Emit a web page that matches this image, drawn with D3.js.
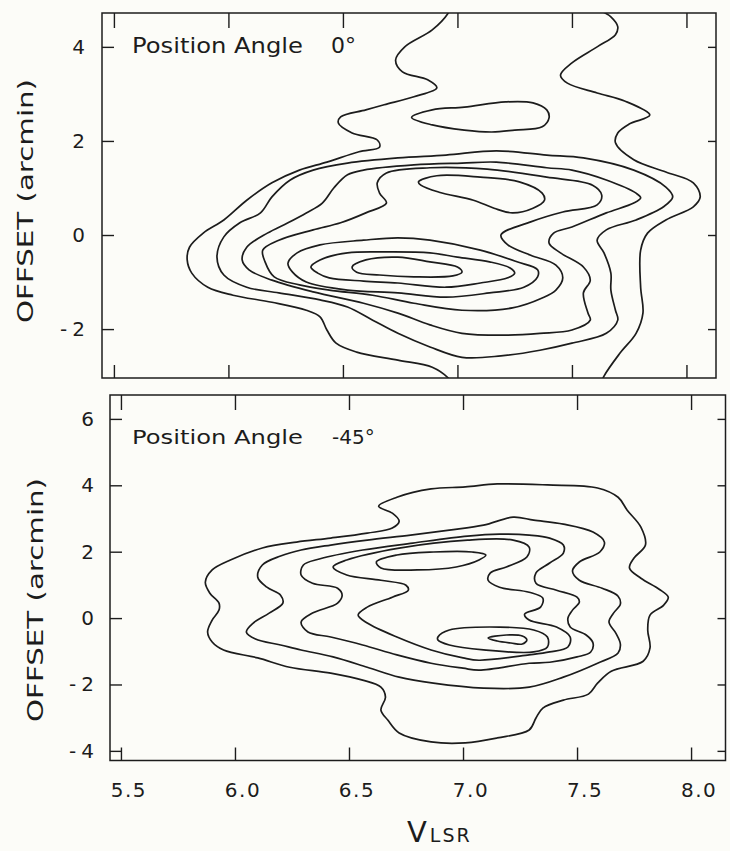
<!DOCTYPE html>
<html><head><meta charset="utf-8">
<script src="https://cdn.jsdelivr.net/npm/d3@7"></script>
<style>body{margin:0;background:#fcfcf8;} svg{display:block;}</style>
</head><body><svg id="c" width="730" height="851"></svg>
<script>
// ---------- DATA ----------
const xTicks = [5.5, 6.0, 6.5, 7.0, 7.5, 8.0];
const xTickLabels = ["5.5", "6.0", "6.5", "7.0", "7.5", "8.0"];
const topYTicks = [4, 2, 0, -2];
const topYTickLabels = ["4", "2", "0", "-2"];
const botYTicks = [6, 4, 2, 0, -2, -4];
const botYTickLabels = ["6", "4", "2", "0", "-2", "-4"];
const yTitle = "OFFSET (arcmin)";
const xTitleMain = "V";
const xTitleSub = "LSR";
const topLabel = ["Position Angle", "0°"];
const botLabel = ["Position Angle", "-45°"];

// Position angle 0° : contours as [V_LSR, offset] pairs
const topL1a = [[6.98,4.95],[6.96,4.72],[6.89,4.36],[6.77,4.00],[6.73,3.72],[6.76,3.47],[6.87,3.30],[6.91,3.13],[6.81,2.94],[6.68,2.77],[6.60,2.66],[6.49,2.51],[6.48,2.38],[6.54,2.17],[6.65,2.02],[6.66,1.87],[6.57,1.77],[6.43,1.55],[6.31,1.38],[6.19,1.11],[6.08,0.74],[5.98,0.32],[5.89,0.04],[5.83,-0.26],[5.82,-0.53],[5.84,-0.81],[5.91,-1.11],[6.02,-1.28],[6.19,-1.43],[6.34,-1.60],[6.40,-1.74],[6.43,-2.02],[6.47,-2.30],[6.56,-2.49],[6.74,-2.66],[6.89,-2.81],[6.96,-3.04],[6.99,-3.25]];
const topL1b = [[7.58,4.95],[7.62,4.79],[7.67,4.64],[7.70,4.43],[7.69,4.26],[7.61,4.00],[7.50,3.66],[7.45,3.40],[7.48,3.23],[7.61,3.02],[7.73,2.85],[7.84,2.55],[7.75,2.36],[7.70,2.17],[7.69,1.96],[7.77,1.60],[7.91,1.34],[8.03,1.11],[8.06,0.81],[8.03,0.60],[7.91,0.32],[7.83,0.04],[7.80,-0.32],[7.80,-1.11],[7.81,-1.66],[7.78,-2.09],[7.71,-2.51],[7.64,-3.00],[7.62,-3.25]];
const topL2island = [[6.80,2.50],[6.89,2.66],[7.03,2.72],[7.21,2.83],[7.33,2.81],[7.39,2.66],[7.40,2.49],[7.37,2.30],[7.25,2.23],[7.15,2.19],[7.03,2.23],[6.89,2.34]];
const topL2 = [[5.95,-0.47],[5.98,-0.04],[6.05,0.26],[6.14,0.47],[6.19,0.81],[6.27,1.17],[6.37,1.38],[6.52,1.53],[6.74,1.64],[6.95,1.70],[7.17,1.79],[7.39,1.70],[7.55,1.64],[7.77,1.38],[7.91,1.02],[7.94,0.81],[7.90,0.60],[7.78,0.32],[7.65,0.11],[7.61,-0.11],[7.64,-0.38],[7.67,-0.81],[7.67,-1.17],[7.69,-1.60],[7.70,-1.81],[7.65,-2.09],[7.50,-2.30],[7.36,-2.45],[7.19,-2.57],[7.02,-2.60],[6.88,-2.38],[6.74,-2.09],[6.63,-1.81],[6.52,-1.53],[6.40,-1.38],[6.22,-1.23],[6.08,-1.11],[5.98,-0.85]];
const topL3 = [[6.06,-0.53],[6.08,-0.26],[6.17,0.04],[6.26,0.26],[6.34,0.47],[6.41,0.68],[6.46,1.00],[6.52,1.28],[6.59,1.38],[6.81,1.49],[7.02,1.53],[7.17,1.55],[7.39,1.43],[7.50,1.38],[7.65,1.17],[7.78,0.89],[7.80,0.79],[7.77,0.68],[7.65,0.47],[7.50,0.17],[7.42,0.04],[7.40,-0.17],[7.45,-0.38],[7.55,-0.68],[7.58,-0.96],[7.55,-1.23],[7.57,-1.66],[7.58,-1.81],[7.50,-2.02],[7.36,-2.09],[7.19,-2.13],[7.02,-2.09],[6.88,-1.91],[6.74,-1.66],[6.59,-1.45],[6.37,-1.21],[6.19,-0.96],[6.09,-0.74]];
const topL4 = [[6.16,-0.57],[6.15,-0.32],[6.22,-0.11],[6.37,0.11],[6.49,0.26],[6.60,0.47],[6.69,0.68],[6.66,0.89],[6.65,1.11],[6.69,1.32],[6.88,1.43],[7.13,1.40],[7.39,1.23],[7.59,1.06],[7.63,0.85],[7.61,0.64],[7.46,0.49],[7.32,0.28],[7.19,0.00],[7.22,-0.21],[7.32,-0.43],[7.43,-0.64],[7.46,-0.91],[7.43,-1.17],[7.37,-1.34],[7.24,-1.55],[7.02,-1.60],[6.81,-1.45],[6.63,-1.28],[6.44,-1.17],[6.31,-1.06],[6.20,-0.89]];
const topL5a = [[6.83,1.13],[6.91,1.26],[7.10,1.23],[7.27,1.13],[7.37,0.89],[7.38,0.74],[7.33,0.57],[7.24,0.47],[7.16,0.57],[7.07,0.74],[6.92,0.91],[6.84,1.06]];
const topL5b = [[6.26,-0.60],[6.30,-0.38],[6.40,-0.21],[6.59,-0.11],[6.74,-0.06],[6.88,-0.11],[7.10,-0.32],[7.26,-0.57],[7.35,-0.74],[7.35,-0.89],[7.29,-1.11],[7.14,-1.23],[6.95,-1.32],[6.74,-1.23],[6.52,-1.17],[6.34,-1.00],[6.28,-0.79]];
const topL6 = [[6.36,-0.68],[6.40,-0.53],[6.52,-0.38],[6.69,-0.36],[6.88,-0.38],[7.00,-0.47],[7.14,-0.57],[7.23,-0.70],[7.25,-0.81],[7.22,-0.91],[7.10,-1.02],[6.95,-1.11],[6.74,-1.02],[6.59,-0.98],[6.44,-0.91],[6.39,-0.81]];
const topL7 = [[6.54,-0.68],[6.60,-0.53],[6.74,-0.47],[6.88,-0.57],[7.00,-0.68],[7.02,-0.79],[6.98,-0.87],[6.81,-0.89],[6.66,-0.85],[6.56,-0.79]];

// Position angle -45°
const botL1 = [[6.63,3.37],[6.71,3.64],[6.86,3.89],[7.01,3.95],[7.15,4.04],[7.37,4.01],[7.59,3.92],[7.68,3.64],[7.72,3.25],[7.78,2.74],[7.80,2.20],[7.75,1.81],[7.73,1.51],[7.78,1.20],[7.86,0.87],[7.90,0.63],[7.88,0.39],[7.82,0.09],[7.81,-0.36],[7.82,-0.90],[7.79,-1.30],[7.65,-1.60],[7.59,-1.96],[7.55,-2.29],[7.44,-2.47],[7.35,-2.71],[7.32,-3.01],[7.29,-3.37],[7.15,-3.61],[7.01,-3.76],[6.86,-3.73],[6.72,-3.46],[6.67,-3.07],[6.64,-2.77],[6.66,-2.38],[6.64,-2.08],[6.56,-1.87],[6.42,-1.66],[6.24,-1.48],[6.10,-1.20],[5.95,-0.96],[5.90,-0.72],[5.88,-0.42],[5.90,-0.06],[5.93,0.24],[5.93,0.45],[5.89,0.75],[5.87,1.08],[5.90,1.45],[5.98,1.75],[6.12,2.11],[6.27,2.29],[6.42,2.41],[6.58,2.56],[6.69,2.71],[6.72,2.92],[6.69,3.16]];
const botL2 = [[6.10,1.23],[6.12,1.60],[6.20,1.87],[6.29,2.05],[6.42,2.20],[6.58,2.35],[6.77,2.50],[6.94,2.65],[7.09,2.80],[7.22,3.04],[7.31,2.95],[7.44,2.83],[7.57,2.59],[7.62,2.29],[7.60,1.99],[7.51,1.69],[7.48,1.42],[7.51,1.14],[7.61,0.90],[7.68,0.66],[7.69,0.42],[7.66,0.15],[7.64,-0.12],[7.67,-0.45],[7.69,-0.78],[7.68,-1.05],[7.59,-1.36],[7.44,-1.78],[7.29,-2.08],[7.09,-2.11],[6.87,-1.96],[6.72,-1.78],[6.58,-1.48],[6.43,-1.17],[6.29,-0.96],[6.20,-0.81],[6.09,-0.63],[6.05,-0.42],[6.08,-0.15],[6.15,0.15],[6.21,0.45],[6.20,0.69],[6.14,0.93]];
const botL3 = [[6.29,1.30],[6.30,1.60],[6.37,1.78],[6.56,2.05],[6.78,2.26],[7.02,2.47],[7.16,2.53],[7.29,2.50],[7.38,2.41],[7.44,2.20],[7.44,1.96],[7.38,1.66],[7.32,1.36],[7.32,1.05],[7.41,0.84],[7.50,0.63],[7.51,0.48],[7.48,0.24],[7.46,0.00],[7.47,-0.27],[7.54,-0.51],[7.57,-0.75],[7.56,-1.02],[7.50,-1.17],[7.38,-1.33],[7.29,-1.36],[7.07,-1.57],[7.00,-1.51],[6.86,-1.36],[6.71,-1.11],[6.56,-0.81],[6.42,-0.57],[6.32,-0.42],[6.29,-0.12],[6.34,0.15],[6.45,0.45],[6.47,0.69],[6.45,0.90],[6.34,1.05]];
const botL4 = [[6.43,1.54],[6.49,1.75],[6.72,2.11],[7.02,2.35],[7.22,2.35],[7.29,2.14],[7.28,1.84],[7.19,1.54],[7.12,1.36],[7.11,1.14],[7.16,0.93],[7.29,0.78],[7.35,0.60],[7.34,0.33],[7.27,0.12],[7.29,-0.06],[7.41,-0.27],[7.47,-0.57],[7.46,-0.87],[7.38,-1.02],[7.29,-1.11],[7.07,-1.27],[7.00,-1.20],[6.86,-0.96],[6.71,-0.57],[6.58,-0.15],[6.54,0.09],[6.58,0.33],[6.69,0.63],[6.76,0.84],[6.75,0.99],[6.64,1.14],[6.49,1.30]];
const botL5a = [[6.62,1.69],[6.71,1.90],[6.87,1.99],[7.04,1.99],[7.10,1.90],[7.07,1.75],[6.97,1.54],[6.80,1.45],[6.64,1.51]];
const botL5b = [[6.89,-0.57],[6.94,-0.36],[7.16,-0.27],[7.31,-0.36],[7.37,-0.57],[7.37,-0.87],[7.31,-1.02],[7.09,-0.96],[6.94,-0.81],[6.89,-0.66]];
const botL6 = [[7.11,-0.60],[7.19,-0.51],[7.26,-0.54],[7.28,-0.66],[7.26,-0.78],[7.21,-0.75],[7.15,-0.69]];

// ---------- LAYOUT ----------
const ink = "#1c1c1c";
const svg = d3.select("#c");
svg.append("rect").attr("width", 730).attr("height", 851).attr("fill", "#fcfcf8");

const panels = [
  { xr: [102, 716], yr: [13, 378], xd: [5.448, 8.129], yd: [4.72, -3.04],
    yt: topYTicks, ytl: topYTickLabels, labX: 85, titleY: 201, titleX: 33,
    closed: [topL2island, topL2, topL3, topL4, topL5a, topL5b, topL6, topL7],
    open: [topL1a, topL1b], label: topLabel, labelY: 53, labelSize: 22, degX: 331 },
  { xr: [110, 725.5], yr: [395, 760.5], xd: [5.452, 8.151], yd: [6.72, -4.29],
    yt: botYTicks, ytl: botYTickLabels, labX: 94, titleY: 600, titleX: 43,
    closed: [botL1, botL2, botL3, botL4, botL5a, botL5b, botL6],
    open: [], label: botLabel, labelY: 444, labelSize: 20, degX: 332 }
];

const font = "'DejaVu Sans', 'Liberation Sans', sans-serif";

panels.forEach((p, i) => {
  const x = d3.scaleLinear().domain(p.xd).range(p.xr);
  const y = d3.scaleLinear().domain(p.yd).range(p.yr);
  const g = svg.append("g");
  g.append("clipPath").attr("id", "clip" + i)
    .append("rect").attr("x", p.xr[0]).attr("y", p.yr[0])
    .attr("width", p.xr[1] - p.xr[0]).attr("height", p.yr[1] - p.yr[0]);

  const closedLine = d3.line().x(d => x(d[0])).y(d => y(d[1])).curve(d3.curveCatmullRomClosed.alpha(0.5));
  const openLine = d3.line().x(d => x(d[0])).y(d => y(d[1])).curve(d3.curveCatmullRom.alpha(0.5));
  const cg = g.append("g").attr("clip-path", `url(#clip${i})`)
    .attr("fill", "none").attr("stroke", ink).attr("stroke-width", 1.7).attr("stroke-linejoin", "round");
  cg.selectAll("path.c").data(p.closed).join("path").attr("class", "c").attr("d", closedLine);
  cg.selectAll("path.o").data(p.open).join("path").attr("class", "o").attr("d", openLine);

  // frame
  g.append("rect").attr("x", p.xr[0]).attr("y", p.yr[0])
    .attr("width", p.xr[1] - p.xr[0]).attr("height", p.yr[1] - p.yr[0])
    .attr("fill", "none").attr("stroke", ink).attr("stroke-width", 1.5);

  // inward ticks via axes
  const axB = d3.axisTop(x).tickValues(xTicks).tickSize(13).tickFormat("");
  const axT = d3.axisBottom(x).tickValues(xTicks).tickSize(15).tickFormat("");
  const axL = d3.axisRight(y).tickValues(p.yt).tickSize(12).tickFormat("");
  const axR = d3.axisLeft(y).tickValues(p.yt).tickSize(8).tickFormat("");
  [[axB, `translate(0,${p.yr[1]})`], [axT, `translate(0,${p.yr[0]})`],
   [axL, `translate(${p.xr[0]},0)`], [axR, `translate(${p.xr[1]},0)`]].forEach(([ax, tr]) => {
    const a = g.append("g").attr("transform", tr).call(ax);
    a.select(".domain").remove();
    a.selectAll("line").attr("stroke", ink).attr("stroke-width", 1.4);
  });

  // y tick labels
  g.selectAll("text.yl").data(p.yt).join("text").attr("class", "yl")
    .attr("x", p.labX).attr("y", d => y(d) + 7)
    .attr("text-anchor", "end").attr("font-family", font).attr("font-size", 20)
    .attr("fill", ink)
    .each(function (d, k) {
      const s = p.ytl[k];
      const t = d3.select(this);
      if (s[0] === "-") {
        t.append("tspan").text("-");
        t.append("tspan").attr("dx", 5).text(s.slice(1));
      } else t.text(s);
    });

  // y title
  g.append("text").attr("transform", `translate(${p.titleX},${p.titleY}) rotate(-90)`)
    .attr("text-anchor", "middle").attr("font-family", font).attr("font-size", 22)
    .attr("textLength", 244).attr("lengthAdjust", "spacingAndGlyphs")
    .attr("fill", ink).text(yTitle);

  // panel label
  g.append("text").attr("x", 132).attr("y", p.labelY)
    .attr("font-family", font).attr("font-size", p.labelSize)
    .attr("textLength", 171).attr("lengthAdjust", "spacingAndGlyphs")
    .attr("fill", ink).text(p.label[0]);
  g.append("text").attr("x", p.degX).attr("y", p.labelY)
    .attr("font-family", font).attr("font-size", p.labelSize)
    .attr("fill", ink).text(p.label[1]);

  if (i === 1) {
    g.selectAll("text.xl").data(xTicks).join("text").attr("class", "xl")
      .attr("x", d => x(d) + 8).attr("y", 797)
      .attr("text-anchor", "middle").attr("font-family", font).attr("font-size", 20)
      .attr("letter-spacing", 1.5)
      .attr("fill", ink).text((d, k) => xTickLabels[k]);
    const t = g.append("text").attr("x", 407).attr("y", 842)
      .attr("font-family", font).attr("fill", ink);
    t.append("tspan").attr("font-size", 29).text(xTitleMain);
    t.append("tspan").attr("font-size", 19).attr("dx", 3).attr("letter-spacing", 2).text(xTitleSub);
  }
});
</script>
</body></html>
